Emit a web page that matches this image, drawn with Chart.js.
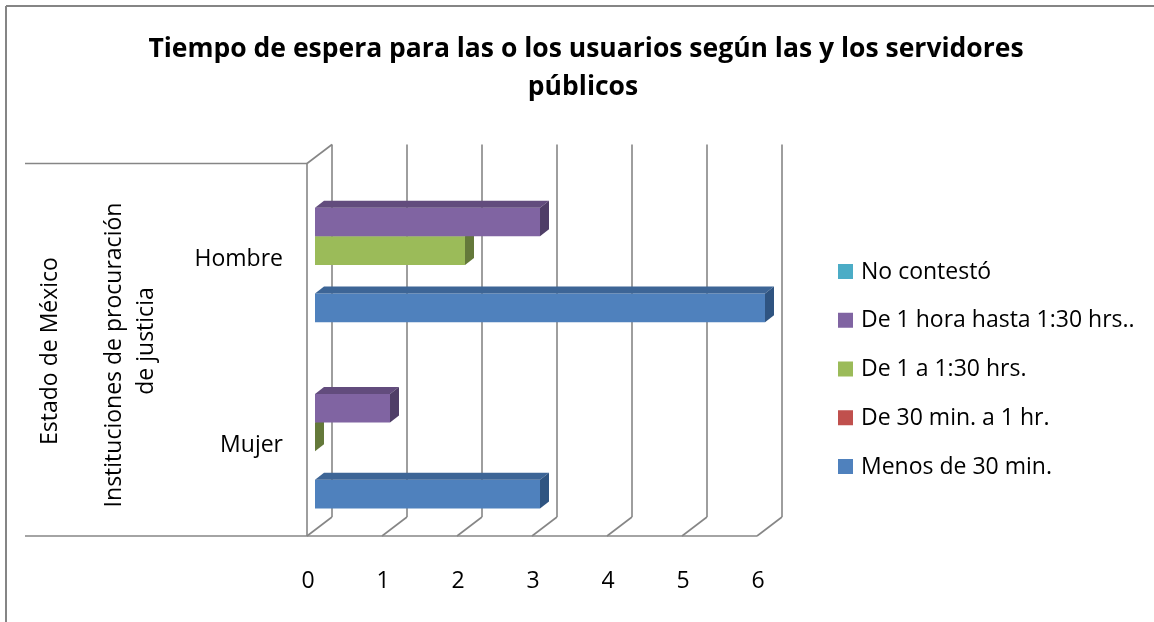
<!DOCTYPE html>
<html><head><meta charset="utf-8">
<script src="https://cdn.jsdelivr.net/npm/chart.js@4.4.1/dist/chart.umd.min.js"></script>
<style>html,body{margin:0;padding:0;background:#fff;} canvas{display:block}</style>
</head><body>
<canvas id="c" width="1154" height="622" style="width:1154px;height:622px"></canvas>
<script>
// ---- data ----
const titleLines = ['Tiempo de espera para las o los usuarios según las y los servidores', 'públicos'];
const categories = ['Hombre', 'Mujer'];
const groupLabelLines = ['Instituciones de procuración', 'de justicia'];
const outerLabel = 'Estado de México';
const tickLabels = ['0', '1', '2', '3', '4', '5', '6'];
const seriesNames = ['No contestó', 'De 1 hora hasta 1:30 hrs..', 'De 1 a 1:30 hrs.', 'De 30 min. a 1 hr.', 'Menos de 30 min.'];
const noContesto = [null, null];
const de1HoraHasta130 = [3, 1];
const de1a130 = [2, 0];
const de30a1hr = [null, null];
const menos30 = [6, 3];
const seriesValues = [noContesto, de1HoraHasta130, de1a130, de30a1hr, menos30];

// ---- style ----
const frontColors = ['#4BACC6', '#8064A2', '#9BBB59', '#C0504D', '#4F81BD'];
const topColors = ['#3b8ea5', '#624c7d', '#7b9546', '#9b3f3c', '#3d6596'];
const sideColors = ['#2f7487', '#4f3e67', '#64793a', '#80332f', '#2f5481'];
const FONT = '"Open Sans", "DejaVu Sans", sans-serif';
const GRID = '#868686';

const datasets = seriesNames.map((name, i) => ({
  label: name,
  data: seriesValues[i],
  backgroundColor: frontColors[i],
  borderColor: frontColors[i],
  borderWidth: 0,
  barPercentage: 1.0,
  categoryPercentage: 0.768
}));

// bar plane -> front plane offset and back plane offset
const FRONT = { dx: -8, dy: 6 };
const BACK = { dx: 17, dy: -13 };
const BDEP = { dx: 9, dy: -7 };

function line(ctx, x1, y1, x2, y2) {
  ctx.beginPath(); ctx.moveTo(x1, y1); ctx.lineTo(x2, y2); ctx.stroke();
}
function poly(ctx, pts, fill) {
  ctx.beginPath();
  ctx.moveTo(pts[0][0], pts[0][1]);
  for (let i = 1; i < pts.length; i++) ctx.lineTo(pts[i][0], pts[i][1]);
  ctx.closePath();
  ctx.fillStyle = fill; ctx.fill();
}

const chart3d = {
  id: 'chart3d',
  beforeDraw(chart) {
    const ctx = chart.ctx;
    ctx.save();
    ctx.fillStyle = '#fff';
    ctx.fillRect(0, 0, chart.width, chart.height);
    ctx.strokeStyle = '#858585'; ctx.lineWidth = 2;
    line(ctx, 6, 6, 1154, 6);
    line(ctx, 6, 6, 6, 622);
    ctx.restore();
  },
  beforeDatasetsDraw(chart) {
    const ctx = chart.ctx, xs = chart.scales.x, ca = chart.chartArea;
    const n = tickLabels.length;
    ctx.save();
    ctx.strokeStyle = GRID; ctx.lineWidth = 1.6; ctx.lineCap = 'butt';
    const topB = ca.top + BACK.dy, botB = ca.bottom + BACK.dy;
    const topF = ca.top + FRONT.dy, botF = ca.bottom + FRONT.dy;
    for (let i = 0; i < n; i++) {
      const v = Number(tickLabels[i]);
      const px = xs.getPixelForValue(v);
      line(ctx, px + BACK.dx, topB, px + BACK.dx, botB);
      line(ctx, px + FRONT.dx, botF, px + BACK.dx, botB);
    }
    const p0 = xs.getPixelForValue(Number(tickLabels[0]));
    const pN = xs.getPixelForValue(Number(tickLabels[n - 1]));
    line(ctx, p0 + FRONT.dx, botF, pN + FRONT.dx, botF);
    line(ctx, p0 + FRONT.dx, topF, p0 + FRONT.dx, botF);
    line(ctx, p0 + FRONT.dx, topF, p0 + BACK.dx, topB);
    line(ctx, 25, topF, p0 + FRONT.dx, topF);
    line(ctx, 25, botF, p0 + FRONT.dx, botF);
    ctx.restore();
  },
  afterDatasetDraw(chart, args) {
    const ctx = chart.ctx, i = args.index;
    const vals = chart.data.datasets[i].data;
    ctx.save();
    args.meta.data.forEach((el, j) => {
      if (vals[j] === null || vals[j] === undefined) return;
      const p = el.getProps(['x', 'y', 'base', 'height'], true);
      const L = Math.min(p.x, p.base), R = Math.max(p.x, p.base);
      const T = p.y - p.height / 2, B = p.y + p.height / 2;
      poly(ctx, [[L, T], [L + BDEP.dx, T + BDEP.dy], [R + BDEP.dx, T + BDEP.dy], [R, T]], topColors[i]);
      poly(ctx, [[R, T], [R + BDEP.dx, T + BDEP.dy], [R + BDEP.dx, B + BDEP.dy], [R, B]], sideColors[i]);
    });
    ctx.restore();
  },
  afterDraw(chart) {
    const ctx = chart.ctx, xs = chart.scales.x, ys = chart.scales.y;
    ctx.save();
    ctx.fillStyle = '#000';
    ctx.font = 'bold 26.5px ' + FONT;
    ctx.textAlign = 'center'; ctx.textBaseline = 'alphabetic';
    ctx.fillText(titleLines[0], 586, 57);
    ctx.fillText(titleLines[1], 583, 95);
    ctx.font = '23px ' + FONT;
    tickLabels.forEach(t => {
      ctx.fillText(t, xs.getPixelForValue(Number(t)) + FRONT.dx + 1, 588);
    });
    ctx.textAlign = 'right';
    categories.forEach((c, j) => {
      ctx.fillText(c, 283, ys.getPixelForValue(j) + 15.5);
    });
    ctx.textAlign = 'center'; ctx.textBaseline = 'middle';
    ctx.save(); ctx.translate(114, 355); ctx.rotate(-Math.PI / 2);
    ctx.fillText(groupLabelLines[0], 0, 0); ctx.restore();
    ctx.save(); ctx.translate(146, 341); ctx.rotate(-Math.PI / 2);
    ctx.fillText(groupLabelLines[1], 0, 0); ctx.restore();
    ctx.save(); ctx.translate(50, 351); ctx.rotate(-Math.PI / 2);
    ctx.fillText(outerLabel, 0, 0); ctx.restore();
    ctx.textAlign = 'left'; ctx.textBaseline = 'alphabetic';
    chart.data.datasets.forEach((ds, k) => {
      const base = 278.5 + k * 48.75;
      ctx.fillStyle = ds.backgroundColor;
      ctx.fillRect(838, base - 14.5, 15, 15);
      ctx.fillStyle = '#000';
      ctx.fillText(ds.label, 861, base);
    });
    ctx.restore();
  }
};

new Chart(document.getElementById('c'), {
  type: 'bar',
  data: { labels: categories, datasets },
  options: {
    indexAxis: 'y',
    responsive: false,
    animation: false,
    devicePixelRatio: 1,
    layout: { padding: { left: 315, right: 389, top: 157.5, bottom: 92 } },
    plugins: { legend: { display: false }, title: { display: false }, tooltip: { enabled: false } },
    scales: {
      x: { type: 'linear', min: 0, max: 6, display: false },
      y: { type: 'category', display: false, offset: true }
    }
  },
  plugins: [chart3d]
});
</script>
</body></html>
